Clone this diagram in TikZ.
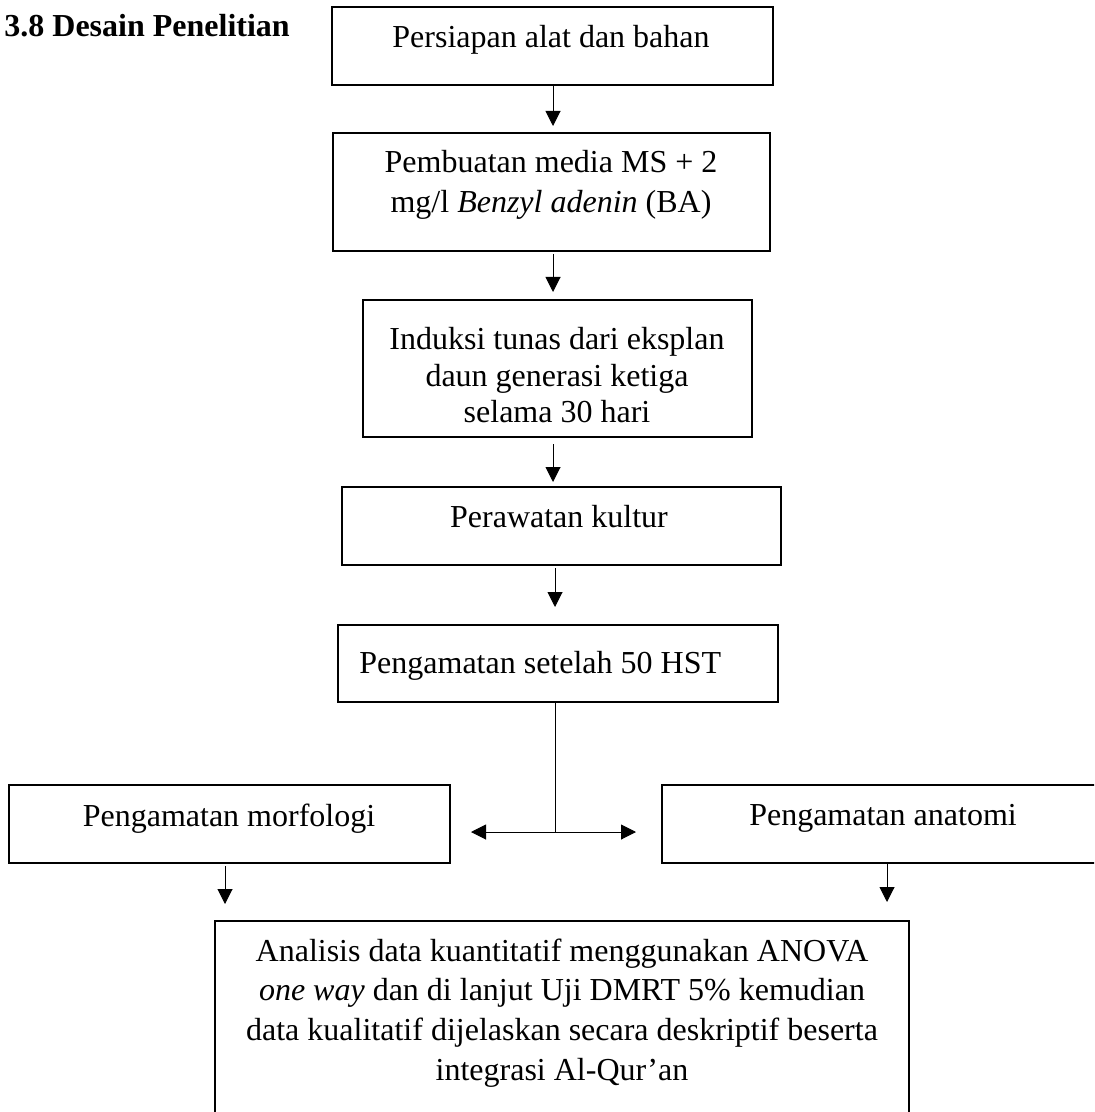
\documentclass[tikz,border=0pt]{standalone}
\usepackage{fontspec}
\setmainfont{Liberation Serif}
\usetikzlibrary{arrows.meta}
\begin{document}
\begin{tikzpicture}[x=0.5pt,y=-0.5pt,
  box/.style={draw, line width=1pt, inner sep=0pt},
  txt/.style={font=\fontsize{16}{19}\selectfont, inner sep=0pt, anchor=base},
  arr/.style={line width=0.5pt, -{Triangle[length=7.5pt,width=7.5pt]}},
  lin/.style={line width=0.5pt}]
\clip (0,0) rectangle (1094,1112);
% boxes
\node[box, minimum width=220.5pt, minimum height=39pt] (b1) at (552.5,46) {};
\node[box, minimum width=218.5pt, minimum height=59pt] (b2) at (551.5,192) {};
\node[box, minimum width=194.5pt, minimum height=68.5pt] (b3) at (557.5,368.5) {};
\node[box, minimum width=219.5pt, minimum height=39pt] (b4) at (561.5,526) {};
\node[box, minimum width=220pt, minimum height=38.5pt] (b5) at (558,663.5) {};
\node[box, minimum width=220.5pt, minimum height=39pt] (bm) at (229.5,824) {};
\node[box, minimum width=229pt, minimum height=39pt] (ba) at (891,824) {};
\node[box, minimum width=347pt, minimum height=109.5pt] (bb) at (562,1030.5) {};
% texts
\node[txt, anchor=base west] (t0) at (4,37) {\bfseries 3.8 Desain Penelitian};
\node[txt] (t1) at (551,48) {Persiapan alat dan bahan};
\node[txt] (t2a) at (551,173) {Pembuatan media MS + 2};
\node[txt] (t2b) at (551,213) {mg/l \textit{Benzyl adenin} (BA)};
\node[txt] (t3a) at (557,350) {Induksi tunas dari eksplan};
\node[txt] (t3b) at (557,386) {daun generasi ketiga};
\node[txt] (t3c) at (557,422) {selama 30 hari};
\node[txt] (t4) at (559,527) {Perawatan kultur};
\node[txt, anchor=base west] (t5) at (359,673) {Pengamatan setelah 50 HST};
\node[txt] (tm) at (229,826) {Pengamatan morfologi};
\node[txt] (ta) at (883,825) {Pengamatan anatomi};
\node[txt] (tb1) at (562,961) {Analisis data kuantitatif menggunakan ANOVA};
\node[txt] (tb2) at (562,1000) {\textit{one way} dan di lanjut Uji DMRT 5\% kemudian};
\node[txt] (tb3) at (562,1040) {data kualitatif dijelaskan secara deskriptif beserta};
\node[txt] (tb4) at (562,1080) {integrasi Al-Qur’an};
% connector guides
\coordinate (ax) at (553,0);
\coordinate (ax2) at (555,0);
\coordinate (j) at (555,832);
\coordinate (mx) at (225,0);
\coordinate (nx) at (887,0);
% connectors
\draw[arr, shorten >=3pt] (b1.south -| ax) -- (b2.north -| ax);
\draw[arr, shorten <=1pt, shorten >=3.5pt] (b2.south -| ax) -- (b3.north -| ax);
\draw[arr, shorten <=3pt, shorten >=2pt] (b3.south -| ax) -- (b4.north -| ax);
\draw[arr, shorten <=1pt, shorten >=8.5pt] (b4.south -| ax2) -- (b5.north -| ax2);
\draw[lin] (b5.south -| ax2) -- (j);
\draw[arr, shorten >=10pt] (j) -- (bm.east |- j);
\draw[arr, shorten >=12.5pt] (j) -- (ba.west |- j);
\draw[arr, shorten <=1pt, shorten >=8pt] (bm.south -| mx) -- (bb.north -| mx);
\draw[arr, shorten >=9pt] (ba.south -| nx) -- (bb.north -| nx);
\end{tikzpicture}
\end{document}
